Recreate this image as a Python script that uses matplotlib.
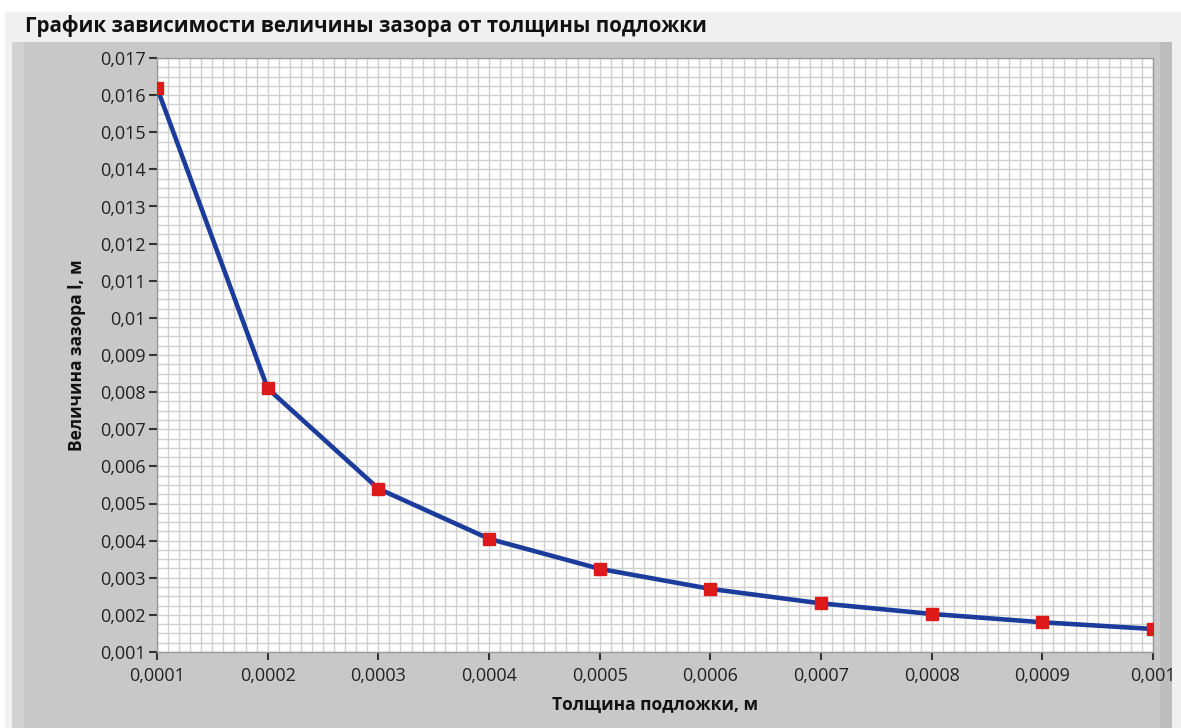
import matplotlib
matplotlib.use("Agg")
import matplotlib.pyplot as plt
from matplotlib.patches import Rectangle
from matplotlib.ticker import MultipleLocator, FuncFormatter, AutoMinorLocator

# Substrate thickness (m) and resulting gap size (m)
thickness = [0.0001, 0.0002, 0.0003, 0.0004, 0.0005,
             0.0006, 0.0007, 0.0008, 0.0009, 0.001]
gap = [0.0162, 0.0081, 0.0054, 0.00405, 0.00324,
       0.0027, 0.00231, 0.002025, 0.0018, 0.00162]

title = "График зависимости величины зазора от толщины подложки"
xlabel = "Толщина подложки, м"
ylabel = "Величина зазора l, м"

plt.rcParams["font.family"] = ["Open Sans", "DejaVu Sans"]

W, H = 1181, 728
fig = plt.figure(figsize=(W / 100, H / 100), dpi=100)
fig.patch.set_facecolor("white")


def px_rect(x0, y0, x1, y1, color):
    fig.patches.append(Rectangle((x0 / W, 1 - y1 / H), (x1 - x0) / W, (y1 - y0) / H,
                                 transform=fig.transFigure, facecolor=color,
                                 edgecolor="none", zorder=-10))


# panel backgrounds
px_rect(5, 12, W, H, "#f0f0f0")
px_rect(12, 42, 1172, H, "#c8c8c8")
px_rect(12, 42, 24, H, "#d2d2d2")
px_rect(1160, 42, 1172, H, "#bdbdbd")

fig.text(25 / W, 1 - 26 / H, title, fontsize=14.8, fontweight="bold",
         va="center", ha="left", color="#111111")

ax = fig.add_axes([157 / W, 1 - 652 / H, 996 / W, 594 / H])
ax.set_facecolor("white")

ax.plot(thickness, gap, color="#1c3c9c", linewidth=3.3, zorder=3)
ax.plot(thickness, gap, linestyle="none", marker="s", markersize=8,
        color="#dd1a1a", zorder=4)

ax.set_xlim(0.0001, 0.001)
ax.set_ylim(0.001, 0.017)
ax.xaxis.set_major_locator(MultipleLocator(0.0001))
ax.yaxis.set_major_locator(MultipleLocator(0.001))
ax.xaxis.set_minor_locator(AutoMinorLocator(10))
ax.yaxis.set_minor_locator(AutoMinorLocator(4))


def comma_fmt(v, pos):
    s = f"{v:.4f}".rstrip("0").rstrip(".")
    return s.replace(".", ",")


ax.xaxis.set_major_formatter(FuncFormatter(comma_fmt))
ax.yaxis.set_major_formatter(FuncFormatter(comma_fmt))

ax.grid(which="both", color="#cfcfcf", linewidth=1.0, zorder=0)
ax.set_axisbelow(True)

ax.tick_params(axis="both", which="major", direction="out", length=6, width=1.5,
               color="#333333", labelsize=13, labelcolor="#222222", pad=2)
ax.tick_params(axis="both", which="minor", length=0)
ax.tick_params(axis="x", pad=5)

for side in ax.spines:
    ax.spines[side].set_color("#9a9a9a")
    ax.spines[side].set_linewidth(1.0)

ax.set_xlabel(xlabel, fontsize=12.5, fontweight="bold", color="#111111", labelpad=8)
ax.set_ylabel(ylabel, fontsize=12.5, fontweight="bold", color="#111111", labelpad=10)

fig.savefig("out.png", dpi=100, facecolor=fig.get_facecolor())
